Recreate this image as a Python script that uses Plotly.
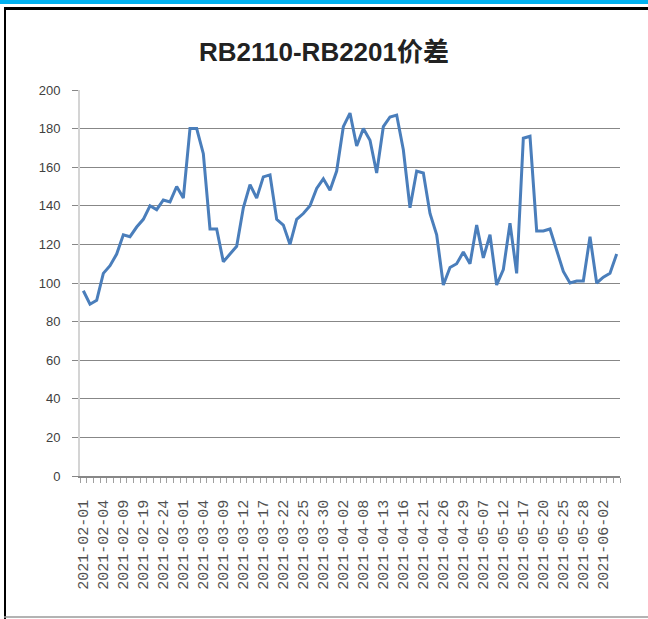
import plotly.graph_objects as go

dates = [
    "2021-02-01", "2021-02-02", "2021-02-03", "2021-02-04", "2021-02-05",
    "2021-02-08", "2021-02-09", "2021-02-10", "2021-02-18", "2021-02-19",
    "2021-02-22", "2021-02-23", "2021-02-24", "2021-02-25", "2021-02-26",
    "2021-03-01", "2021-03-02", "2021-03-03", "2021-03-04", "2021-03-05",
    "2021-03-08", "2021-03-09", "2021-03-10", "2021-03-11", "2021-03-12",
    "2021-03-15", "2021-03-16", "2021-03-17", "2021-03-18", "2021-03-19",
    "2021-03-22", "2021-03-23", "2021-03-24", "2021-03-25", "2021-03-26",
    "2021-03-29", "2021-03-30", "2021-03-31", "2021-04-01", "2021-04-02",
    "2021-04-06", "2021-04-07", "2021-04-08", "2021-04-09", "2021-04-12",
    "2021-04-13", "2021-04-14", "2021-04-15", "2021-04-16", "2021-04-19",
    "2021-04-20", "2021-04-21", "2021-04-22", "2021-04-23", "2021-04-26",
    "2021-04-27", "2021-04-28", "2021-04-29", "2021-04-30", "2021-05-06",
    "2021-05-07", "2021-05-10", "2021-05-11", "2021-05-12", "2021-05-13",
    "2021-05-14", "2021-05-17", "2021-05-18", "2021-05-19", "2021-05-20",
    "2021-05-21", "2021-05-24", "2021-05-25", "2021-05-26", "2021-05-27",
    "2021-05-28", "2021-05-31", "2021-06-01", "2021-06-02", "2021-06-03",
    "2021-06-04",
]

spread = [
    96, 89, 91, 105, 109, 115, 125, 124, 129, 133,
    140, 138, 143, 142, 150, 144, 180, 180, 167, 128,
    128, 111, 115, 119, 139, 151, 144, 155, 156, 133,
    130, 120, 133, 136, 140, 149, 154, 148, 158, 181,
    188, 171, 180, 174, 157, 181, 186, 187, 169, 139,
    158, 157, 136, 125, 99, 108, 110, 116, 110, 130,
    113, 125, 99, 107, 131, 105, 175, 176, 127, 127,
    128, 117, 106, 100, 101, 101, 124, 100, 103, 105,
    115,
]

y_ticks = [0, 20, 40, 60, 80, 100, 120, 140, 160, 180, 200]
label_step = 3
title_text = "RB2110-RB2201价差"

x_idx = list(range(len(dates)))
tick_pos = x_idx[::label_step]
tick_txt = dates[::label_step]

W, H = 648, 619
L, R, T, B = 80, 620, 90, 476  # plot area in pixels


def px(x):
    return (x - L) / (R - L)


def py(y):
    return (B - y) / (B - T)


fig = go.Figure()
fig.add_trace(go.Scatter(
    x=x_idx, y=spread, mode="lines",
    line=dict(color="#4a7ebb", width=3),
    hoverinfo="skip", showlegend=False,
))

shapes = [
    # cyan bar on top
    dict(type="rect", xref="paper", yref="paper", x0=px(0), x1=px(W), y0=py(0), y1=py(4),
         fillcolor="#00b0f0", line=dict(width=0), layer="above"),
    # black top border
    dict(type="rect", xref="paper", yref="paper", x0=px(4), x1=px(W), y0=py(7), y1=py(10),
         fillcolor="#000000", line=dict(width=0), layer="above"),
    # black left border
    dict(type="rect", xref="paper", yref="paper", x0=px(4), x1=px(6), y0=py(7), y1=py(H),
         fillcolor="#000000", line=dict(width=0), layer="above"),
    # bottom grey line
    dict(type="line", xref="paper", yref="paper", x0=px(4), x1=px(W), y0=py(617), y1=py(617),
         line=dict(color="#9a9a9a", width=1.5), layer="above"),
]

fig.update_layout(
    width=W, height=H,
    margin=dict(l=L, r=W - R, t=T, b=H - B, pad=0),
    paper_bgcolor="white", plot_bgcolor="white",
    title=dict(
        text=title_text, x=0.5, xref="container", xanchor="center",
        y=1 - 52 / H, yref="container", yanchor="middle",
        font=dict(family="Liberation Sans, Noto Sans CJK SC",
                  size=26, color="#222222", weight="bold"),
    ),
    shapes=shapes,
    showlegend=False,
)

fig.update_yaxes(
    range=[0, 200], tickvals=y_ticks, ticktext=[str(v) for v in y_ticks],
    showgrid=True, gridcolor="#878787", gridwidth=1.2,
    zeroline=False,
    showline=True, linecolor="#d4d4d4", linewidth=2,
    ticks="outside", ticklen=6, tickcolor="#878787", tickwidth=1.2,
    ticklabelstandoff=9,
    tickfont=dict(family="Liberation Sans", size=13, color="#404040"),
    fixedrange=True,
)

fig.update_xaxes(
    range=[-0.5, len(dates) - 0.5],
    tickmode="array", tickvals=tick_pos, ticktext=tick_txt,
    tickangle=-90,
    showgrid=False, zeroline=False,
    showline=True, linecolor="#878787", linewidth=1.5,
    ticks="", ticklabelstandoff=16,
    minor=dict(ticks="outside", ticklen=5, tickcolor="#a0a0a0", tickwidth=1,
               dtick=1, tick0=-0.5, showgrid=False),
    tickfont=dict(family="Liberation Mono, DejaVu Sans Mono", size=15, color="#505050"),
    fixedrange=True,
)

fig.write_html(
    "out.html",
    config=dict(displayModeBar=False),
    post_script="document.body.style.margin='0';document.body.style.padding='0';",
)
